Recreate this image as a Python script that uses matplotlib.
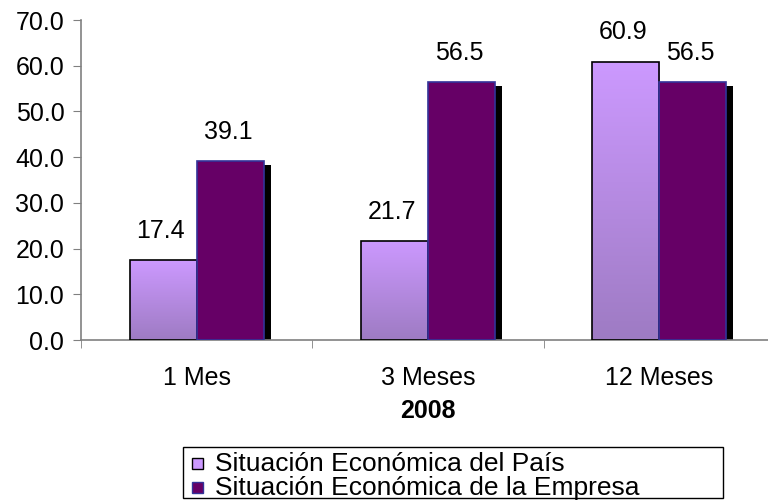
import numpy as np
import matplotlib
matplotlib.use("Agg")
import matplotlib.pyplot as plt
from matplotlib.colors import LinearSegmentedColormap
from matplotlib.patches import Rectangle

# datos
categorias = ["1 Mes", "3 Meses", "12 Meses"]
pais = [17.4, 21.7, 60.9]
empresa = [39.1, 56.5, 56.5]
series_labels = ["Situación Económica del País", "Situación Económica de la Empresa"]
y_ticks = [0, 10, 20, 30, 40, 50, 60, 70]

plt.rcParams["font.family"] = ["Liberation Sans", "DejaVu Sans"]

LILA_TOP = "#CC99FF"
LILA_BOT = "#9E7BC3"
MORADO = "#660066"
BORDE_AZUL = "#333399"
GRIS = "#808080"
FS = 18

fig = plt.figure(figsize=(7.68, 5.0), dpi=100)
ax = fig.add_axes([81 / 768, 1 - 340 / 500, 694 / 768, 320 / 500])

x = np.arange(len(categorias))
w = 0.29
off = 0.145

# sombra de la segunda serie
ax.bar(x + off + 0.03, np.array(empresa) - 0.9, w, color="black", zorder=1)

b1 = ax.bar(x - off, pais, w, color="none", edgecolor="black", linewidth=1.2, zorder=3)
b2 = ax.bar(x + off, empresa, w, color=MORADO, edgecolor=BORDE_AZUL, linewidth=1.2, zorder=3)

cmap = LinearSegmentedColormap.from_list("lila", [LILA_BOT, LILA_TOP])
grad = np.linspace(0, 1, 256).reshape(-1, 1)
for r in b1:
    x0, h = r.get_x(), r.get_height()
    im = ax.imshow(grad, cmap=cmap, origin="lower", aspect="auto",
                   extent=(x0, x0 + r.get_width(), 0, h), zorder=2)
    im.set_clip_path(r)

for rects, vals in ((b1, pais), (b2, empresa)):
    for r, v in zip(rects, vals):
        ax.annotate(f"{v:.1f}", (r.get_x() + r.get_width() / 2 - 0.01, v),
                    xytext=(0, 21), textcoords="offset points",
                    ha="center", va="center", fontsize=FS)

ax.set_xlim(-0.5, 2.5)
ax.set_ylim(0, 70)
ax.set_yticks(y_ticks)
ax.set_yticklabels([f"{t:.1f}" for t in y_ticks], fontsize=FS)
ax.set_xticks(x)
ax.set_xticklabels(categorias, fontsize=FS)
ax.set_xticks([-0.5, 0.5, 1.5, 2.5], minor=True)
ax.tick_params(axis="x", which="major", length=0, pad=19)
ax.tick_params(axis="x", which="minor", length=6, color=GRIS, direction="out")
ax.tick_params(axis="y", length=6, color=GRIS, pad=6)
ax.set_xlabel("2008", fontsize=FS, fontweight="bold", labelpad=6)

for s in ("top", "right"):
    ax.spines[s].set_visible(False)
for s in ("left", "bottom"):
    ax.spines[s].set_color(GRIS)
    ax.spines[s].set_linewidth(1.2)

# leyenda manual
fig.patches.append(Rectangle((183 / 768, 1 - 498 / 500), 540 / 768, 51 / 500,
                             transform=fig.transFigure, facecolor="white",
                             edgecolor="black", linewidth=1.0))
colores = [LILA_TOP, MORADO]
bordes = ["black", BORDE_AZUL]
for i, (lab, c, e) in enumerate(zip(series_labels, colores, bordes)):
    yc = 464 + i * 24
    fig.patches.append(Rectangle((192 / 768, 1 - (yc + 5) / 500), 11 / 768, 11 / 500,
                                 transform=fig.transFigure, facecolor=c,
                                 edgecolor=e, linewidth=1.0))
    fig.text(215 / 768, 1 - yc / 500, lab, fontsize=FS + 1, ha="left", va="center")

fig.savefig("out.png", dpi=100)
